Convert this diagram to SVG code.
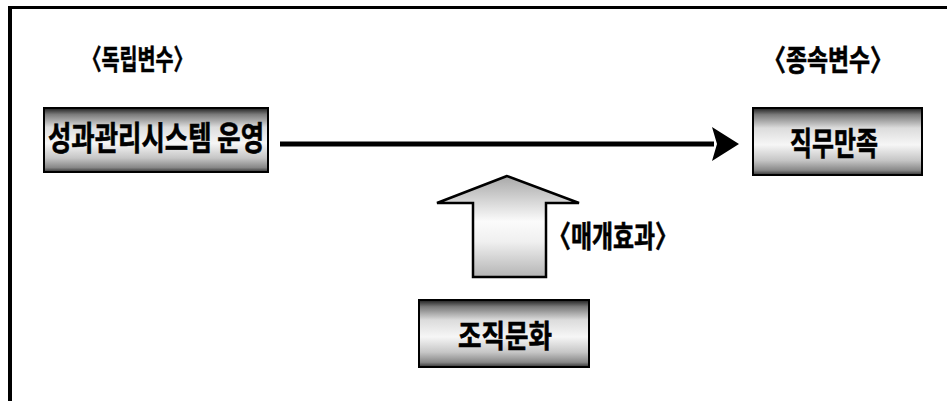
<svg xmlns="http://www.w3.org/2000/svg" width="947" height="401" viewBox="0 0 947 401">
<defs>
<linearGradient id="metal" x1="0" y1="0" x2="0" y2="1">
<stop offset="0" stop-color="#1e1e1e"/>
<stop offset="0.1" stop-color="#7a7a7a"/>
<stop offset="0.3" stop-color="#dcdcdc"/>
<stop offset="0.55" stop-color="#f6f6f6"/>
<stop offset="0.78" stop-color="#c6c6c6"/>
<stop offset="0.93" stop-color="#888"/>
<stop offset="1" stop-color="#333"/>
</linearGradient>
<linearGradient id="blockFill" x1="0" y1="0" x2="0" y2="1">
<stop offset="0" stop-color="#a8a8a8"/>
<stop offset="0.25" stop-color="#d6d6d6"/>
<stop offset="0.45" stop-color="#fbfbfb"/>
<stop offset="0.65" stop-color="#f0f0f0"/>
<stop offset="1" stop-color="#b4b4b4"/>
</linearGradient>
<marker id="head" markerUnits="userSpaceOnUse" markerWidth="28" markerHeight="36" refX="2" refY="18" orient="auto">
<path d="M0,1 L27,18 L0,35 L5,18 Z" fill="#000"/>
</marker>
</defs>
<style>
.box{fill:url(#metal);stroke:#000;stroke-width:2}
.lbl{font-family:"Noto Sans CJK KR","Noto Sans",sans-serif;font-weight:bold;fill:#000;stroke:#000;stroke-width:0.6}
.frame{fill:none;stroke:#000}
</style>
<rect width="947" height="401" fill="#fff"/>
<g id="frame">
<path class="frame" d="M10,401 V7.5" stroke-width="4"/>
<path class="frame" d="M8,7.5 H947" stroke-width="3"/>
</g>
<g id="labels">
<text class="lbl" x="82" y="70" font-size="28" textLength="111" lengthAdjust="spacingAndGlyphs">〈독립변수〉</text>
<text class="lbl" x="763" y="71" font-size="29" textLength="130" lengthAdjust="spacingAndGlyphs">〈종속변수〉</text>
</g>
<g id="node-system">
<rect class="box" x="44" y="108" width="224" height="64"/>
<text class="lbl" x="48" y="150" font-size="33" textLength="216" lengthAdjust="spacingAndGlyphs">성과관리시스템 운영</text>
</g>
<g id="node-satisfaction">
<rect class="box" x="753" y="108" width="169" height="67"/>
<text class="lbl" x="790" y="155" font-size="32" textLength="88" lengthAdjust="spacingAndGlyphs">직무만족</text>
</g>
<g id="node-culture">
<rect class="box" x="419" y="300" width="170" height="67"/>
<text class="lbl" x="458" y="347" font-size="31" textLength="94" lengthAdjust="spacingAndGlyphs">조직문화</text>
</g>
<g id="connectors">
<line x1="280" y1="144" x2="714" y2="144" stroke="#000" stroke-width="5" marker-end="url(#head)"/>
<polygon points="507,176 437,203 473,203 473,277 546,277 546,203 579,203" fill="url(#blockFill)" stroke="#000" stroke-width="2.5" stroke-linejoin="miter"/>
<text class="lbl" x="548" y="247" font-size="30" textLength="130" lengthAdjust="spacingAndGlyphs">〈매개효과〉</text>
</g>
</svg>
